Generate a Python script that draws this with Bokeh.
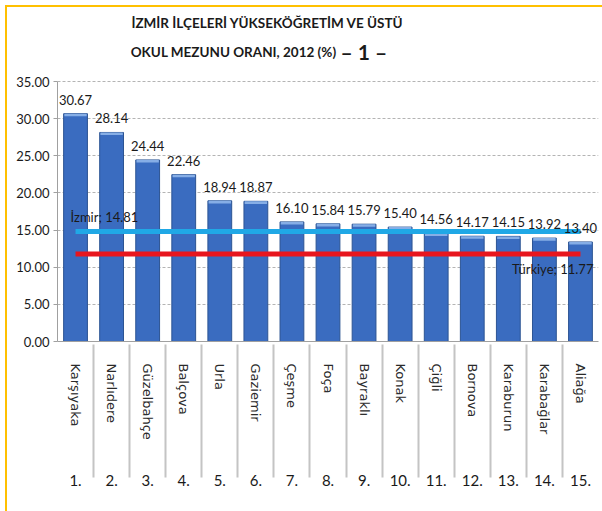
from bokeh.plotting import figure
from bokeh.models import (FactorRange, Range1d, Label, LabelSet, InlineStyleSheet,
                          FixedTicker, NumeralTickFormatter, ColumnDataSource)
from bokeh.core.properties import value
from bokeh.embed import file_html
from bokeh.resources import INLINE

ranks = ["1.", "2.", "3.", "4.", "5.", "6.", "7.", "8.", "9.", "10.", "11.", "12.", "13.", "14.", "15."]
districts = ["Karşıyaka", "Narlıdere", "Güzelbahçe", "Balçova", "Urla", "Gaziemir", "Çeşme", "Foça",
             "Bayraklı", "Konak", "Çiğli", "Bornova", "Karaburun", "Karabağlar", "Aliağa"]
rates = [30.67, 28.14, 24.44, 22.46, 18.94, 18.87, 16.10, 15.84, 15.79, 15.40, 14.56, 14.17, 14.15, 13.92, 13.40]
izmir_avg = 14.81
turkiye_avg = 11.77
y_ticks = [0, 5, 10, 15, 20, 25, 30, 35]
title_1 = "İZMİR İLÇELERİ YÜKSEKÖĞRETİM VE ÜSTÜ"
title_2 = "OKUL MEZUNU ORANI, 2012 (%)"
title_3 = "– 1 –"

FONT = "Lato"
PAD = " " * 4  # leading blank space widens the name row so the rank row sits lower

# layout: value axis 0..35 spans 260 px; the frame reaches up to the canvas top
H, BOTTOM, AXIS_PX = 511, 170, 260
FRAME_H = H - BOTTOM
y_max = y_ticks[-1]
y_top = y_max * FRAME_H / AXIS_PX

factors = [(r, PAD + d) for r, d in zip(ranks, districts)]
src = ColumnDataSource(dict(
    x=factors,
    top=rates,
    cap=[r - 0.35 for r in rates],
    txt=[f"{r:.2f}" for r in rates],
))
izmir_src = ColumnDataSource(dict(x=[factors[0]], y=[izmir_avg], t=[f"İzmir; {izmir_avg:.2f}"]))
tr_src = ColumnDataSource(dict(x=[factors[-1]], y=[turkiye_avg], t=[f"Türkiye; {turkiye_avg:.2f}"]))

p = figure(width=602, height=H, output_backend="svg", toolbar_location=None,
           x_range=FactorRange(factors=factors, group_padding=0, factor_padding=0, range_padding=0),
           y_range=Range1d(0, y_top),
           min_border_left=57, min_border_right=4, min_border_top=0, min_border_bottom=BOTTOM)
p.outline_line_color = None
p.background_fill_color = "white"
p.border_fill_color = "white"
p.stylesheets = [InlineStyleSheet(css=(
    ":host::after{content:'';position:absolute;left:5px;top:5px;right:0;bottom:0;"
    "border-left:2px solid #ffc000;border-top:2px solid #ffc000;pointer-events:none;z-index:10;}"
))]

p.vbar(x="x", top="top", width=0.66, source=src, fill_color="#3a6cc0", line_color="#2c5493")
p.vbar(x="x", top="top", bottom="cap", width=0.62, source=src, fill_color="#86aee6", line_color=None)

p.line(x=[factors[0], factors[-1]], y=[izmir_avg, izmir_avg], line_width=5, line_color="#20a8e6")
p.line(x=[factors[0], factors[-1]], y=[turkiye_avg, turkiye_avg], line_width=5, line_color="#e8161e")

p.add_layout(LabelSet(x="x", y="top", text="txt", source=src, y_offset=9, text_align="center",
                      text_baseline="alphabetic", text_font=value(FONT), text_font_size="13px",
                      text_color="#1a1a1a"))
p.add_layout(LabelSet(x="x", y="y", text="t", source=izmir_src, x_offset=-5, y_offset=9,
                      text_font=value(FONT), text_font_size="13px", text_color="#1a1a1a",
                      text_baseline="alphabetic", text_align="left"))
p.add_layout(LabelSet(x="x", y="y", text="t", source=tr_src, x_offset=13, y_offset=-7,
                      text_font=value(FONT), text_font_size="13px", text_color="#1a1a1a",
                      text_baseline="top", text_align="right"))

# titles (screen units, measured from the frame's bottom-left corner)
p.add_layout(Label(x=210, y=FRAME_H - 22, x_units="screen", y_units="screen", text=title_1,
                   text_font=FONT, text_font_size="13.5px", text_font_style="bold", text_color="#1a1a1a",
                   text_align="center", text_baseline="middle"))
p.add_layout(Label(x=279, y=FRAME_H - 51, x_units="screen", y_units="screen", text=title_2,
                   text_font=FONT, text_font_size="13.5px", text_font_style="bold", text_color="#1a1a1a",
                   text_align="right", text_baseline="middle"))
p.add_layout(Label(x=283, y=FRAME_H - 51, x_units="screen", y_units="screen", text=title_3,
                   text_font=FONT, text_font_size="21px", text_font_style="bold", text_color="#1a1a1a",
                   text_align="left", text_baseline="middle"))

p.yaxis.ticker = FixedTicker(ticks=y_ticks)
p.yaxis.bounds = (0, y_max)
p.yaxis.formatter = NumeralTickFormatter(format="0.00")
p.yaxis.major_label_text_font = FONT
p.yaxis.major_label_text_font_size = "13px"
p.yaxis.major_label_text_color = "#1a1a1a"
p.yaxis.axis_line_color = "#a0a0a0"
p.yaxis.major_tick_line_color = "#a0a0a0"
p.yaxis.major_tick_in = 0
p.yaxis.major_tick_out = 4
p.yaxis.minor_tick_line_color = None
p.yaxis.major_label_standoff = 4

p.xaxis.major_label_orientation = "vertical"
p.xaxis.major_label_text_font = "DejaVu Sans"
p.xaxis.major_label_text_font_size = "13px"
p.xaxis.major_label_text_color = "#2a2a2a"
p.xaxis.group_text_font = FONT
p.xaxis.group_text_font_size = "15px"
p.xaxis.group_text_font_style = "normal"
p.xaxis.group_text_color = "#1a1a1a"
p.xaxis.axis_line_color = "#a0a0a0"
p.xaxis.major_tick_line_color = None
p.xaxis.separator_line_color = "#c4c4c4"
p.xaxis.major_label_standoff = 16

p.xgrid.visible = False
p.ygrid.grid_line_color = "#b4b4b4"
p.ygrid.grid_line_dash = "3 2"

open("out.html", "w").write(file_html(p, INLINE))
